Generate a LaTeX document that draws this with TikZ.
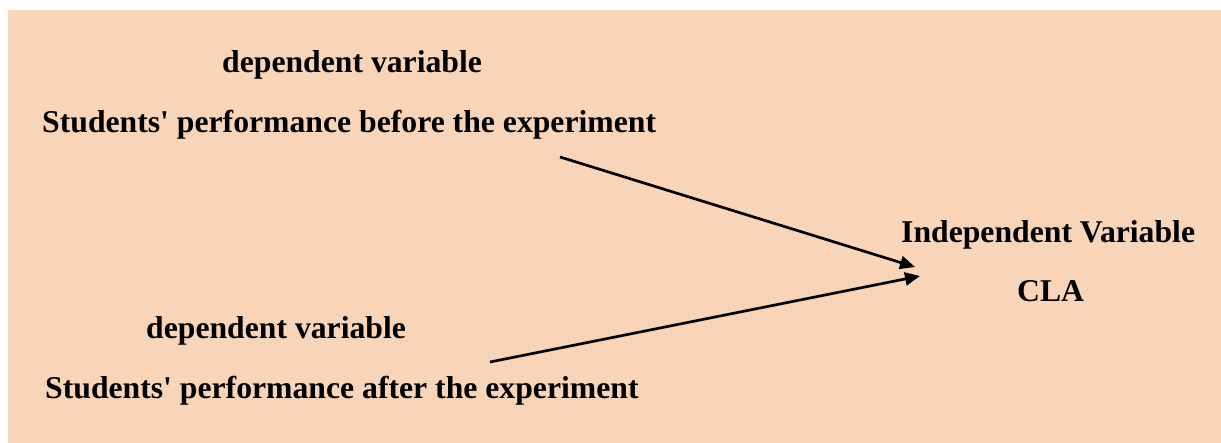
\documentclass[tikz,border=0pt]{standalone}
\usepackage{fontspec}
\setmainfont{Liberation Serif}
\usetikzlibrary{arrows.meta}
\definecolor{peach}{RGB}{248,212,185}
\tikzset{
  lbl/.style={anchor=base west, inner sep=0pt, font=\fontsize{31.7}{38}\selectfont\bfseries},
  conn/.style={line width=2.7pt, -{Triangle[length=15pt,width=13pt]}}
}
\begin{document}
\begin{tikzpicture}[x=1pt,y=-1pt]
\useasboundingbox (0,0) rectangle (1221,443);
\fill[white] (0,0) rectangle (1221,443);
\fill[peach] (8,10) rectangle (1221,443);
\node[lbl] (dep1) at (222,73) {dependent variable};
\node[lbl] (before) at (42,133) {Students\textquotesingle{} performance before the experiment};
\node[lbl] (indep) at (901,243) {Independent Variable};
\node[lbl] (cla) at (1017,302) {CLA};
\node[lbl] (dep2) at (146,339) {dependent variable};
\node[lbl] (after) at (45,399) {Students\textquotesingle{} performance after the experiment};
\coordinate (s1) at (560,157);
\coordinate (e1) at (915,267);
\coordinate (s2) at (490,362);
\coordinate (e2) at (920,276);
\draw[conn] (s1) -- (e1);
\draw[conn] (s2) -- (e2);
\end{tikzpicture}
\end{document}
